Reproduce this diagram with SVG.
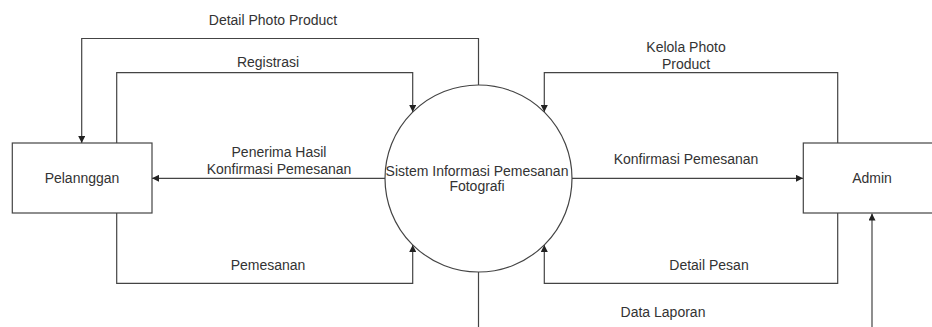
<svg xmlns="http://www.w3.org/2000/svg" width="932" height="327" viewBox="0 0 932 327">
<style>
text{font-family:"Liberation Sans",Arial,sans-serif;font-size:14px;fill:#333;text-anchor:middle}
.n{fill:#fff;stroke:#444;stroke-width:1.2}
.c{fill:none;stroke:#444;stroke-width:1.2}
</style>
<defs>
<marker id="ah" viewBox="0 0 10 10" refX="10" refY="5" markerWidth="7" markerHeight="7" markerUnits="userSpaceOnUse" orient="auto">
<path d="M0,0 L10,5 L0,10 Z" fill="#222"/>
</marker>
</defs>
<rect width="932" height="327" fill="#fff"/>
<g id="connectors">
<path class="c" d="M478.5,85 V38.5 H81.7 V143" marker-end="url(#ah)"/>
<path class="c" d="M116.7,143 V72.7 H412.7 V112" marker-end="url(#ah)"/>
<path class="c" d="M385,178.3 H152" marker-end="url(#ah)"/>
<path class="c" d="M116.7,213 V283.3 H412.7 V245" marker-end="url(#ah)"/>
<path class="c" d="M837.7,143 V72.7 H544.3 V112" marker-end="url(#ah)"/>
<path class="c" d="M572,178.3 H803" marker-end="url(#ah)"/>
<path class="c" d="M837.7,213 V283.3 H544.3 V245" marker-end="url(#ah)"/>
<path class="c" d="M478.5,272 V327"/>
<path class="c" d="M872,327 V213.5" marker-end="url(#ah)"/>
<text x="273" y="25">Detail Photo Product</text>
<text x="268" y="67">Registrasi</text>
<text x="279" y="157">Penerima Hasil</text>
<text x="279" y="174">Konfirmasi Pemesanan</text>
<text x="268" y="270">Pemesanan</text>
<text x="686" y="52">Kelola Photo</text>
<text x="686" y="69">Product</text>
<text x="686" y="164">Konfirmasi Pemesanan</text>
<text x="709" y="270">Detail Pesan</text>
<text x="663" y="316.5">Data Laporan</text>
</g>
<g id="pelanggan">
<rect class="n" x="12.3" y="143" width="139.7" height="70"/>
<text x="82" y="183">Pelannggan</text>
</g>
<g id="sistem">
<circle class="n" cx="478.5" cy="178.5" r="93.5"/>
<text x="477" y="175.5">Sistem Informasi Pemesanan</text>
<text x="477" y="191">Fotografi</text>
</g>
<g id="admin">
<rect class="n" x="803.3" y="143" width="140" height="70"/>
<text x="872" y="183">Admin</text>
</g>
</svg>
